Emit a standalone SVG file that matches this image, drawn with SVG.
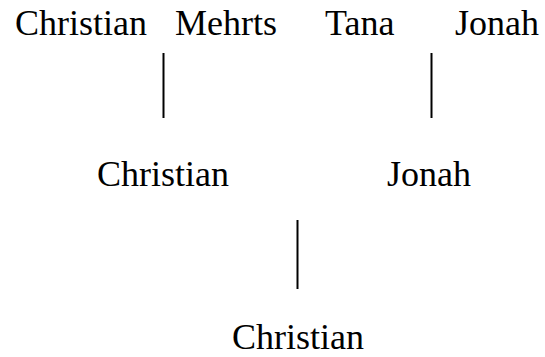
<svg xmlns="http://www.w3.org/2000/svg" width="545" height="357" viewBox="0 0 545 357">
  <style>
    .name { font-family: "Liberation Serif", "Times New Roman", serif; font-size: 36px; fill: #000; }
    .link { stroke: #000; stroke-width: 2; fill: none; }
  </style>
  <rect width="545" height="357" fill="#fff"/>
  <!-- first round -->
  <g id="christian-1"><text class="name" x="15" y="35">Christian</text></g>
  <g id="mehrts"><text class="name" x="175" y="35">Mehrts</text></g>
  <g id="tana"><text class="name" x="325" y="35">Tana</text></g>
  <g id="jonah-1"><text class="name" x="455" y="35">Jonah</text></g>
  <!-- second round -->
  <g id="christian-2"><text class="name" x="97" y="186">Christian</text></g>
  <g id="jonah-2"><text class="name" x="387" y="186">Jonah</text></g>
  <!-- winner -->
  <g id="christian-3"><text class="name" x="232" y="349">Christian</text></g>
  <g id="connectors">
    <line class="link" x1="163.5" y1="53" x2="163.5" y2="118"/>
    <line class="link" x1="431.5" y1="53" x2="431.5" y2="118"/>
    <line class="link" x1="297.5" y1="220" x2="297.5" y2="289"/>
  </g>
</svg>
